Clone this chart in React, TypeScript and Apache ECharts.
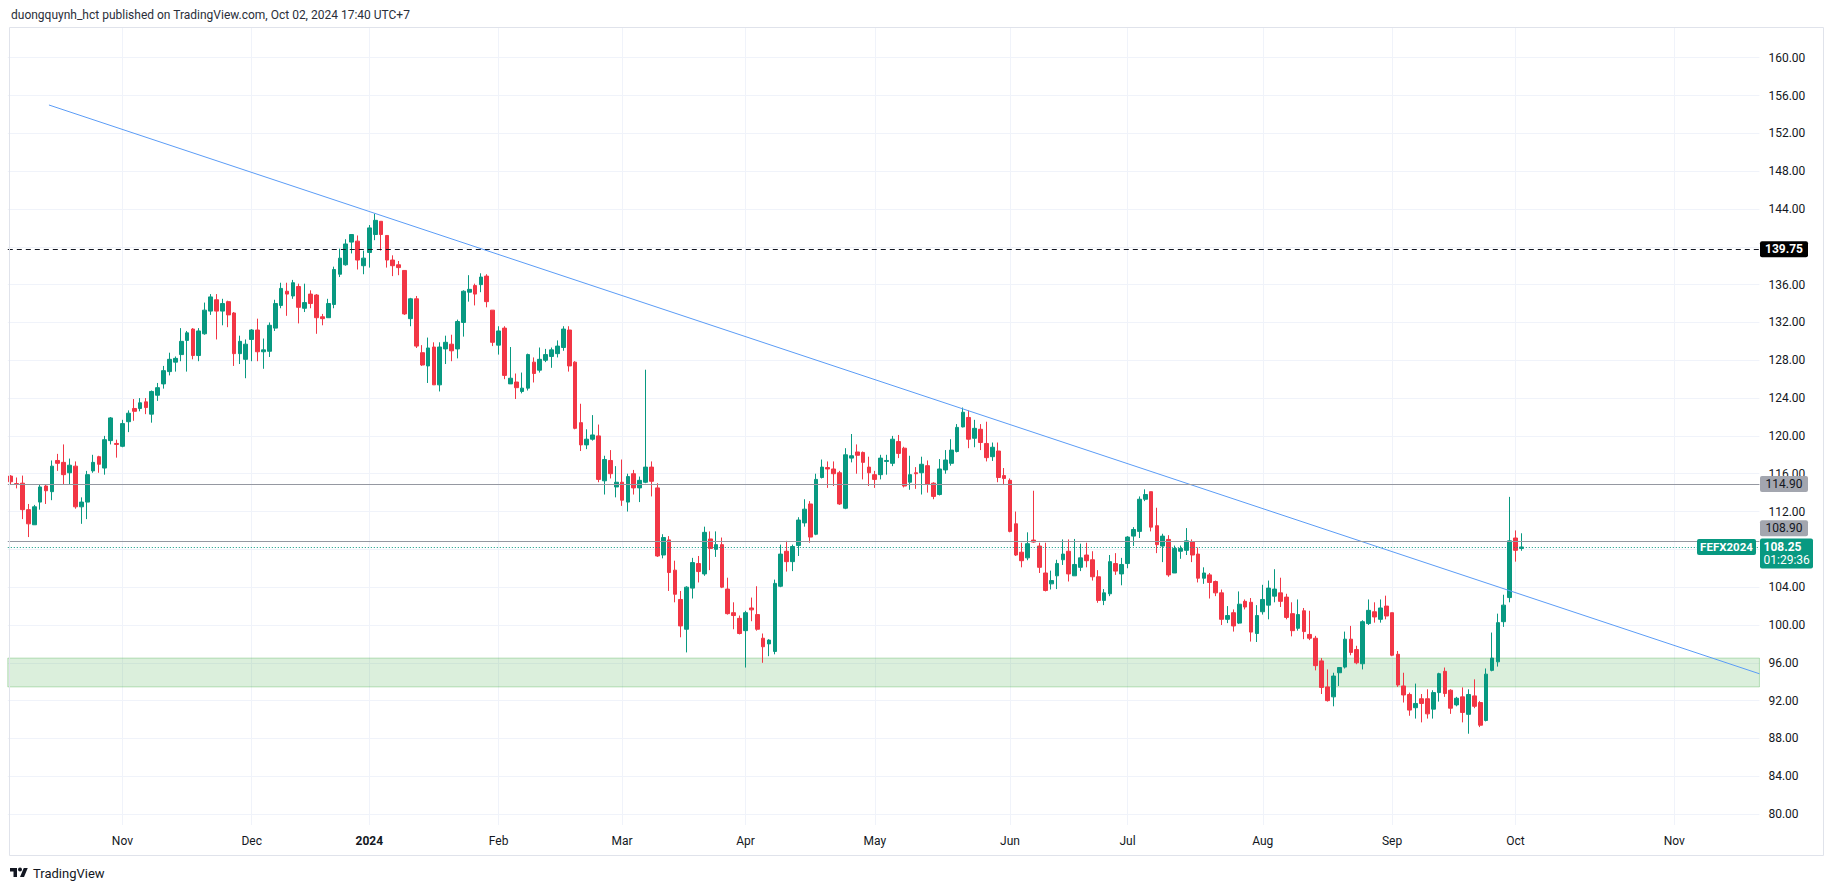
import React, { useEffect, useRef } from "react";
import * as echarts from "echarts";

// ---------- DATA ----------
// Daily candles [open, close, low, high], one array per month
const oct23 = [
  [115.75, 115.15, 114.9, 115.85], [114.95, 114.9, 114.45, 115.6], [115.0, 112.2, 111.2, 115.8], [112.2, 110.7, 109.3, 112.8],
  [110.6, 112.5, 110.6, 112.7], [113.0, 114.6, 112.2, 114.9], [114.7, 114.2, 112.8, 114.9], [114.1, 116.8, 113.2, 117.4],
  [117.4, 117.1, 116.3, 118.1], [117.2, 115.9, 114.9, 119.1], [116.1, 116.9, 114.9, 117.6], [116.8, 112.5, 112.3, 117.3],
  [112.5, 113.0, 110.7, 113.5], [113.0, 115.9, 111.2, 116.3], [116.3, 117.2, 116.1, 118.0], [117.8, 117.0, 116.1, 117.9],
  [116.6, 119.6, 115.9, 120.0], [119.5, 121.9, 119.1, 122.0], [119.2, 119.1, 117.7, 119.6],
];
const nov23 = [
  [118.9, 121.3, 118.8, 121.7], [121.5, 122.4, 120.4, 122.7], [122.9, 122.6, 121.6, 123.9], [122.9, 123.5, 122.6, 124.0],
  [123.6, 123.0, 122.3, 124.0], [122.3, 124.7, 121.4, 124.8], [124.3, 125.1, 123.7, 125.6], [125.5, 126.9, 125.0, 127.4],
  [126.8, 128.1, 126.4, 128.8], [127.8, 128.2, 126.8, 128.4], [128.6, 130.0, 127.9, 131.4], [130.1, 130.9, 126.8, 131.1],
  [131.3, 128.5, 128.1, 131.4], [128.5, 131.1, 127.9, 131.4], [130.8, 133.3, 130.7, 134.1], [133.2, 134.7, 132.8, 135.0],
  [134.4, 133.2, 130.2, 135.0], [133.2, 134.0, 131.7, 134.5], [134.2, 132.8, 131.5, 134.3], [133.0, 128.7, 127.4, 133.1],
  [128.7, 130.0, 127.6, 130.6], [128.1, 129.7, 126.1, 130.2],
];
const dec23 = [
  [130.2, 131.2, 127.9, 131.3], [131.2, 128.9, 127.9, 132.4], [128.9, 129.1, 127.1, 130.3], [128.95, 131.7, 128.35, 132.0],
  [131.4, 134.0, 131.1, 134.4], [133.8, 135.6, 133.5, 136.2], [135.3, 135.0, 132.7, 136.2], [134.8, 136.2, 134.5, 136.5],
  [135.8, 133.6, 131.9, 136.1], [133.5, 134.1, 133.1, 136.1], [135.0, 134.0, 133.5, 135.4], [134.9, 132.5, 130.8, 135.0],
  [132.6, 132.4, 131.7, 132.9], [132.5, 134.0, 132.5, 134.5], [133.9, 137.6, 133.5, 137.9], [137.1, 138.8, 136.8, 139.8],
  [138.1, 140.3, 138.0, 140.8], [140.5, 141.3, 139.3, 141.3], [140.6, 138.6, 137.6, 141.2], [138.0, 138.8, 137.1, 139.6],
];
const jan24 = [
  [139.4, 142.0, 137.8, 142.3], [141.3, 142.8, 140.7, 143.5], [142.7, 141.3, 139.6, 142.7], [141.2, 138.6, 137.8, 141.2],
  [138.6, 138.0, 136.9, 139.1], [138.1, 137.8, 137.0, 138.5], [137.5, 132.9, 132.8, 137.5], [132.4, 134.5, 131.6, 134.6],
  [134.5, 129.5, 129.3, 134.8], [128.8, 127.5, 127.4, 129.6], [127.4, 129.3, 125.6, 130.4], [129.4, 125.4, 125.4, 129.9],
  [125.4, 129.4, 124.7, 129.9], [129.2, 129.9, 127.6, 130.6], [129.7, 129.0, 127.9, 130.7], [129.2, 132.1, 128.2, 132.3],
  [132.0, 135.3, 130.5, 135.4], [135.2, 135.5, 134.2, 137.0], [135.9, 135.0, 133.8, 136.1], [136.0, 136.8, 135.2, 137.2],
  [136.9, 134.2, 133.6, 137.1], [133.3, 129.9, 129.5, 133.3],
];
const feb24 = [
  [129.6, 131.1, 128.6, 131.6], [131.4, 126.4, 126.0, 131.6], [125.5, 126.1, 125.5, 129.4], [125.7, 125.1, 123.9, 126.6],
  [124.7, 125.05, 124.5, 126.7], [125.05, 128.6, 124.8, 128.7], [127.8, 126.6, 125.65, 128.3], [126.95, 128.1, 126.7, 129.35],
  [128.0, 128.6, 127.8, 129.2], [128.4, 129.1, 127.2, 129.35], [128.7, 129.5, 128.3, 130.1], [129.35, 131.3, 129.0, 131.6],
  [131.2, 127.4, 126.8, 131.6], [127.8, 120.8, 120.7, 127.9], [121.4, 119.05, 118.4, 123.4], [119.05, 119.65, 118.6, 120.7],
  [119.65, 120.1, 119.5, 122.2], [120.0, 115.4, 115.1, 121.2], [115.25, 117.5, 113.8, 117.9], [117.4, 116.0, 115.5, 118.5],
  [114.6, 115.1, 113.5, 116.8],
];
const mar24 = [
  [115.1, 113.2, 112.6, 117.5], [113.0, 115.7, 112.0, 116.0], [116.0, 114.5, 113.8, 116.4], [114.5, 115.3, 113.0, 115.7],
  [115.1, 116.7, 115.0, 127.0], [116.7, 115.2, 113.6, 117.3], [114.5, 107.3, 107.2, 115.0], [107.4, 109.25, 107.05, 109.6],
  [109.0, 105.55, 103.6, 109.4], [105.8, 103.25, 102.4, 106.8], [102.7, 99.9, 98.7, 103.6], [99.55, 104.0, 97.1, 104.1],
  [103.9, 106.6, 102.8, 107.1], [106.5, 105.65, 104.5, 107.3], [105.4, 109.8, 105.2, 110.4], [109.1, 108.1, 105.8, 109.9],
  [108.0, 108.5, 107.2, 109.9], [108.5, 104.0, 103.9, 109.25], [103.8, 101.2, 101.1, 105.0], [101.3, 101.0, 99.55, 102.4],
  [100.7, 99.1, 99.0, 101.0],
];
const apr24 = [
  [99.4, 101.3, 95.5, 101.5], [101.8, 101.6, 100.4, 102.9], [101.1, 99.55, 99.4, 104.1], [98.6, 97.7, 96.0, 99.1],
  [98.0, 98.4, 96.7, 98.5], [97.2, 104.4, 96.9, 104.8], [104.1, 107.5, 104.0, 108.5], [107.8, 106.7, 105.65, 108.9],
  [106.7, 108.3, 105.7, 108.5], [108.4, 111.1, 107.3, 111.4], [110.8, 112.25, 110.4, 113.3], [112.8, 109.3, 108.7, 113.1],
  [109.6, 115.4, 109.5, 116.0], [115.6, 116.7, 115.5, 117.5], [116.65, 116.5, 114.5, 117.3], [116.5, 116.0, 114.7, 117.3],
  [116.1, 112.8, 112.7, 116.3], [112.35, 118.0, 112.25, 118.7], [117.65, 117.9, 117.2, 120.2], [118.3, 117.95, 116.0, 119.1],
  [118.25, 117.2, 115.4, 118.35], [116.7, 116.1, 114.7, 117.8],
];
const may24 = [
  [115.9, 115.4, 114.5, 116.3], [115.9, 117.65, 115.4, 118.0], [117.3, 117.4, 115.9, 118.0], [117.1, 119.65, 116.8, 120.0],
  [119.4, 118.15, 117.65, 120.1], [118.7, 114.7, 114.55, 118.85], [115.1, 115.9, 114.3, 117.9], [116.1, 116.0, 114.4, 116.7],
  [116.1, 117.0, 113.8, 117.8], [116.85, 114.9, 114.0, 117.4], [115.0, 113.6, 113.3, 115.1], [113.8, 116.5, 113.7, 117.55],
  [116.4, 117.45, 116.0, 118.5], [117.1, 118.5, 116.85, 119.65], [118.35, 120.9, 118.25, 121.25], [120.95, 122.5, 120.9, 123.0],
  [121.95, 119.65, 118.7, 122.7], [119.75, 120.8, 118.8, 121.7], [120.7, 119.3, 118.5, 121.25], [119.2, 117.7, 117.3, 121.5],
  [117.8, 118.8, 117.35, 119.3], [118.4, 115.6, 115.1, 119.3], [115.8, 115.5, 114.8, 116.6],
];
const jun24 = [
  [115.3, 109.9, 109.8, 115.5], [110.7, 107.4, 107.3, 112.0], [107.7, 106.8, 106.1, 108.7], [107.1, 108.6, 106.85, 109.8],
  [108.98, 108.77, 108.7, 114.2], [108.35, 106.1, 105.5, 108.7], [105.5, 103.65, 103.55, 108.7], [104.35, 104.7, 103.75, 105.75],
  [105.2, 106.5, 103.8, 106.9], [106.9, 107.5, 106.35, 109.05], [107.8, 105.4, 104.6, 109.05], [105.2, 106.4, 105.2, 109.1],
  [106.1, 107.1, 105.7, 108.6], [107.4, 106.8, 106.1, 108.7], [106.9, 105.1, 104.7, 107.8], [105.1, 102.6, 102.35, 105.8],
  [102.6, 103.4, 102.1, 103.8], [103.3, 106.7, 103.05, 107.4], [106.5, 105.7, 105.3, 107.6], [105.4, 106.4, 104.2, 107.1],
];
const jul24 = [
  [106.5, 109.3, 106.0, 109.4], [109.4, 110.1, 108.35, 110.35], [109.9, 113.3, 109.2, 113.6], [113.3, 113.8, 113.1, 114.35],
  [114.1, 110.35, 109.9, 114.1], [110.5, 108.5, 107.6, 112.4], [108.35, 109.4, 106.65, 109.65], [109.05, 105.3, 105.1, 109.5],
  [105.5, 108.1, 105.5, 108.4], [107.8, 108.1, 107.0, 108.4], [107.9, 108.9, 107.4, 110.25], [108.8, 107.4, 106.65, 109.05],
  [107.5, 104.95, 104.5, 108.2], [104.95, 105.5, 104.35, 106.1], [105.3, 104.5, 102.8, 105.5], [104.6, 103.4, 103.05, 104.7],
  [103.4, 100.6, 100.0, 103.75], [100.6, 101.0, 100.2, 102.0], [101.3, 99.9, 99.3, 101.65], [100.2, 102.2, 100.1, 103.55],
  [102.5, 101.9, 101.65, 102.7], [102.4, 99.25, 98.25, 102.85], [99.1, 101.0, 98.2, 102.1],
];
const aug24 = [
  [101.4, 102.7, 101.1, 104.25], [102.1, 103.9, 100.6, 104.7], [103.05, 103.8, 102.4, 105.9], [103.4, 102.5, 101.9, 105.0],
  [102.95, 100.8, 100.6, 103.3], [101.2, 99.4, 98.8, 102.4], [99.65, 101.1, 99.4, 102.7], [101.5, 99.3, 98.5, 101.8],
  [99.0, 98.6, 98.4, 101.5], [98.6, 95.7, 95.2, 98.85], [96.2, 93.4, 92.7, 96.5], [93.45, 92.0, 91.9, 95.3],
  [92.4, 94.6, 91.4, 94.95], [94.95, 95.5, 93.55, 95.5], [95.55, 98.5, 95.4, 99.3], [98.5, 97.1, 96.8, 99.9],
  [97.4, 96.0, 95.85, 97.8], [95.9, 100.35, 95.3, 100.5], [100.15, 101.55, 100.0, 102.7], [101.4, 100.85, 100.25, 102.4],
  [100.6, 101.8, 100.25, 102.7], [102.0, 100.95, 100.6, 103.1],
];
const sep24 = [
  [101.3, 96.8, 96.7, 101.3], [96.9, 93.65, 93.45, 97.25], [93.55, 92.6, 91.8, 94.95], [92.65, 91.0, 90.4, 92.85],
  [91.25, 91.7, 90.1, 93.8], [92.2, 91.7, 89.7, 92.7], [92.2, 90.6, 90.1, 93.2], [91.1, 92.85, 90.1, 93.1],
  [92.85, 94.85, 91.9, 94.95], [95.1, 92.75, 92.4, 95.5], [93.1, 91.2, 90.6, 93.2], [91.55, 92.25, 91.4, 92.4],
  [92.4, 90.75, 89.7, 93.4], [90.55, 92.65, 88.5, 93.2], [92.5, 91.4, 91.2, 94.25], [91.8, 89.4, 89.2, 91.95],
  [89.9, 94.8, 89.8, 95.4], [95.2, 96.5, 95.1, 99.2], [96.1, 100.25, 95.6, 101.2], [100.35, 102.1, 99.8, 103.2],
  [102.9, 108.9, 102.4, 113.55],
];
const oct24 = [
  [109.2, 107.9, 106.7, 110.0], [108.1, 108.25, 107.85, 109.7],
];

const firstSession = "2023-10-05";
const holidays = ["2023-12-25", "2024-01-01"];
const futureSessions = 40;
const monthNames = ["Jan", "Feb", "Mar", "Apr", "May", "Jun", "Jul", "Aug", "Sep", "Oct", "Nov", "Dec"];

const priceMin = 76;
const priceMax = 164;
const priceStep = 4;

const resistanceLevel = 139.75;
const upperLevel = 114.9;
const lowerLevel = 108.9;
const lastPrice = 108.25;
const countdown = "01:29:36";
const symbolName = "FEFX2024";
const supportZone = [93.45, 96.5];
const trendLine = [
  [6.5, 155.0],
  [297.5, 94.84],
];
const headerText = "duongquynh_hct published on TradingView.com, Oct 02, 2024 17:40 UTC+7";
const brandText = "TradingView";

// ---------- STYLE / LAYOUT ----------
const UP = "#089981";
const DOWN = "#f23645";
const TEXT = "#131722";
const GRIDLINE = "#f0f3fa";
const FONT = "Roboto, 'Noto Sans', sans-serif";
const STEP = 5.878;
const GRID_LEFT = 7.8;

const LOGO_D =
  "M14 22H7V11H0V4h14v18z M28 22h-8l7.5-18h8L28 22z M24 7a4 4 0 1 1 -8 0a4 4 0 1 1 8 0z";
echarts.graphic.registerShape("tvlogo", echarts.graphic.extendPath(LOGO_D, {}));

const candles = [
  ...oct23, ...nov23, ...dec23, ...jan24, ...feb24, ...mar24,
  ...apr24, ...may24, ...jun24, ...jul24, ...aug24, ...sep24, ...oct24,
];

function buildSessions(): string[] {
  const out: string[] = [];
  let t = Date.parse(firstSession);
  while (out.length < candles.length) {
    const d = new Date(t);
    const wd = d.getUTCDay();
    const iso = d.toISOString().slice(0, 10);
    if (wd !== 0 && wd !== 6 && !holidays.includes(iso)) out.push(iso);
    t += 86400000;
  }
  let n = 0;
  while (n < futureSessions) {
    const d = new Date(t);
    const wd = d.getUTCDay();
    const iso = d.toISOString().slice(0, 10);
    if (iso > out[out.length - 1] && wd !== 0) {
      out.push(iso);
      n++;
    }
    t += 86400000;
  }
  return out;
}

const sessions = buildSessions();
const N = sessions.length;

const isMonthStart = (i: number) => i > 0 && sessions[i].slice(0, 7) !== sessions[i - 1].slice(0, 7);
const monthLabel = (v: string) => {
  const m = parseInt(v.slice(5, 7), 10);
  return m === 1 ? `{y|${v.slice(0, 4)}}` : monthNames[m - 1];
};

function buildOption(): any {
  return {
    animation: false,
    backgroundColor: "#ffffff",
    textStyle: { fontFamily: FONT },
    grid: [
      { left: GRID_LEFT, width: N * STEP, top: 19.9, height: 832 },
      { left: GRID_LEFT + STEP / 2, width: (N - 1) * STEP, top: 27, height: 798 },
    ],
    xAxis: [
      { type: "category", gridIndex: 0, data: sessions, boundaryGap: true, show: false },
      { type: "value", gridIndex: 0, min: -0.5, max: N - 0.5, show: false },
      {
        type: "category",
        gridIndex: 1,
        data: sessions,
        boundaryGap: false,
        axisLine: { show: false },
        axisTick: { show: false },
        axisLabel: {
          interval: (i: number) => isMonthStart(i),
          formatter: (v: string) => monthLabel(v),
          color: TEXT,
          fontSize: 12,
          fontFamily: FONT,
          margin: 10,
          rich: { y: { fontWeight: "bold", fontSize: 12, color: TEXT, fontFamily: FONT } },
        },
        splitLine: {
          show: true,
          interval: (i: number) => isMonthStart(i),
          lineStyle: { color: GRIDLINE, width: 1 },
        },
      },
    ],
    yAxis: [
      {
        type: "value",
        gridIndex: 0,
        position: "right",
        min: priceMin,
        max: priceMax,
        interval: priceStep,
        axisLine: { show: false },
        axisTick: { show: false },
        axisLabel: {
          // the tick label hidden under the last-price badge is not drawn
          formatter: (v: number) => (Math.abs(v - lastPrice) < 1.5 ? "" : v.toFixed(2)),
          showMinLabel: false,
          showMaxLabel: false,
          color: TEXT,
          fontSize: 12,
          fontFamily: FONT,
          margin: 9,
        },
        splitLine: {
          show: true,
          showMinLine: false,
          showMaxLine: false,
          lineStyle: { color: GRIDLINE, width: 1 },
        },
      },
      { type: "value", gridIndex: 1, show: false },
    ],
    series: [
      {
        type: "candlestick",
        xAxisIndex: 0,
        yAxisIndex: 0,
        data: candles,
        barWidth: "72%",
        itemStyle: {
          color: UP,
          color0: DOWN,
          borderColor: UP,
          borderColor0: DOWN,
          borderWidth: 1,
        },
        markArea: {
          silent: true,
          itemStyle: { color: "rgba(76,175,80,0.2)", borderColor: "rgba(76,175,80,0.35)", borderWidth: 1 },
          data: [[{ yAxis: supportZone[1] }, { yAxis: supportZone[0] }]],
        },
        markLine: {
          silent: true,
          symbol: ["none", "none"],
          label: { show: false },
          data: [
            { yAxis: resistanceLevel, lineStyle: { type: [5, 4], color: TEXT, width: 1 } },
            { yAxis: upperLevel, lineStyle: { type: "solid", color: "#9598a1", width: 1 } },
            { yAxis: lowerLevel, lineStyle: { type: "solid", color: "#9598a1", width: 1 } },
            { yAxis: lastPrice, lineStyle: { type: [1, 2], color: UP, width: 1 } },
          ],
        },
      },
      {
        type: "line",
        xAxisIndex: 1,
        yAxisIndex: 0,
        data: trendLine,
        symbol: "none",
        silent: true,
        lineStyle: { color: "#5b9cf6", width: 1 },
        z: 3,
      },
    ],
  };
}

function priceBox(y: number, label: string, fill: string, color: string, bold: boolean) {
  return {
    type: "group",
    z: 100,
    children: [
      { type: "rect", z: 100, shape: { x: 1760, y: y - 8, width: 48, height: 16, r: 2 }, style: { fill } },
      {
        type: "text",
        z: 101,
        x: 1784,
        y,
        style: {
          text: label,
          fill: color,
          font: `${bold ? "bold " : ""}12px ${FONT}`,
          textAlign: "center",
          textVerticalAlign: "middle",
          align: "center",
          verticalAlign: "middle",
        },
      },
    ],
  };
}

function buildGraphic(chart: any) {
  const py = (v: number) => chart.convertToPixel({ yAxisIndex: 0 }, v) as number;
  const yRes = py(resistanceLevel);
  const yUp = py(upperLevel);
  const yLow = py(lowerLevel) - 12.5;
  const yLast = py(lastPrice);
  const txt = (x: number, y: number, text: string, font: string, fill: string, align = "left") => ({
    type: "text",
    z: 101,
    x,
    y,
    style: { text, font, fill, textAlign: align, textVerticalAlign: "middle", align, verticalAlign: "middle" },
  });
  return {
    elements: [
      txt(11, 15, headerText, `12px ${FONT}`, "#2a2e39"),
      {
        type: "rect",
        z: 99,
        shape: { x: 9.5, y: 27.5, width: 1814, height: 828 },
        style: { fill: "none", stroke: "#e0e3eb", lineWidth: 1 },
      },
      { type: "tvlogo", z: 101, x: 10, y: 866, scaleX: 0.5, scaleY: 0.5, style: { fill: TEXT } },
      txt(33, 873, brandText, `13px ${FONT}`, TEXT),
      priceBox(yRes, resistanceLevel.toFixed(2), "#000000", "#ffffff", true),
      priceBox(yUp, upperLevel.toFixed(2), "#a3a6af", TEXT, false),
      priceBox(yLow, lowerLevel.toFixed(2), "#a3a6af", TEXT, false),
      {
        type: "rect",
        z: 100,
        shape: { x: 1760, y: yLast - 8.5, width: 53, height: 30, r: 2 },
        style: { fill: UP },
      },
      txt(1763.5, yLast, lastPrice.toFixed(2), `bold 12px ${FONT}`, "#ffffff"),
      txt(1763.5, yLast + 13.5, countdown, `12px ${FONT}`, "#ffffff"),
      {
        type: "rect",
        z: 100,
        shape: { x: 1697, y: yLast - 8, width: 59, height: 16, r: 2 },
        style: { fill: UP },
      },
      txt(1726.5, yLast, symbolName, `bold 11.5px ${FONT}`, "#ffffff", "center"),
    ],
  };
}

export default function App() {
  const ref = useRef<HTMLDivElement>(null);
  useEffect(() => {
    if (!ref.current) return;
    const chart = echarts.init(ref.current, null, { renderer: "svg" });
    chart.setOption(buildOption());
    chart.setOption({ graphic: buildGraphic(chart) });
    return () => chart.dispose();
  }, []);
  return (
    <div
      ref={ref}
      style={{ position: "fixed", left: 0, top: 0, width: 1835, height: 891, background: "#ffffff" }}
    />
  );
}
